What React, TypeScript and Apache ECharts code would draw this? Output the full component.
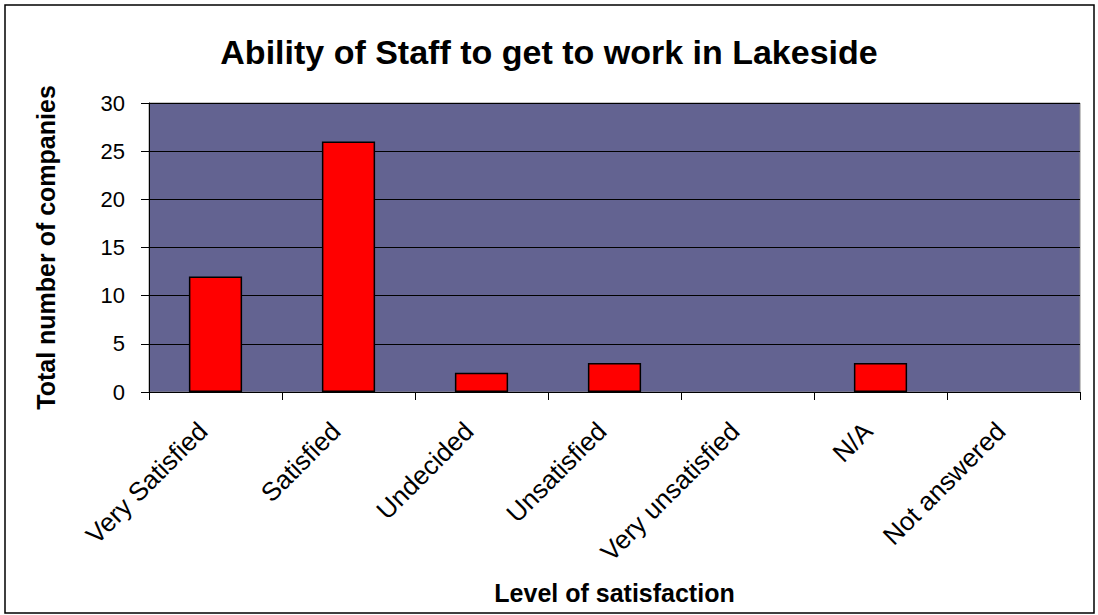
import React, { useEffect, useRef } from "react";
import * as echarts from "echarts";

const categories = ["Very Satisfied", "Satisfied", "Undecided", "Unsatisfied", "Very unsatisfied", "N/A", "Not answered"];
const counts = [12, 26, 2, 3, 0, 3, 0];
const titleText = "Ability of Staff to get to work in Lakeside";
const yName = "Total number of companies";
const xName = "Level of satisfaction";

export default function App() {
  const ref = useRef<HTMLDivElement>(null);
  useEffect(() => {
    if (!ref.current) return;
    const chart = echarts.init(ref.current, null, { renderer: "svg" });
    const font = "Liberation Sans, Arial, sans-serif";
    const left = 149, right = 1080, top = 103, bottom = 392;
    chart.setOption({
      animation: false,
      backgroundColor: "#ffffff",
      title: {
        text: titleText,
        left: "center",
        top: 30,
        textStyle: { fontFamily: font, fontSize: 34, fontWeight: "bold", color: "#000" },
      },
      grid: {
        left: left,
        top: top,
        width: right - left,
        height: bottom - top,
        show: true,
        backgroundColor: "#636391",
        borderColor: "#8a8a8a",
        borderWidth: 1,
      },
      xAxis: {
        type: "category",
        data: categories,
        boundaryGap: true,
        name: xName,
        nameLocation: "middle",
        nameGap: 188,
        nameTextStyle: { fontFamily: font, fontSize: 25, fontWeight: "bold", color: "#000" },
        axisLine: { show: true, lineStyle: { color: "#000", width: 1 } },
        axisTick: { show: true, length: 8, alignWithLabel: false, lineStyle: { color: "#000" } },
        axisLabel: {
          rotate: 45,
          interval: 0,
          margin: 22,
          padding: [0, 18, 0, 0],
          fontFamily: font,
          fontSize: 26,
          color: "#000",
        },
        splitLine: { show: false },
      },
      yAxis: {
        type: "value",
        min: 0,
        max: 30,
        interval: 5,
        name: yName,
        nameLocation: "middle",
        nameGap: 91,
        nameRotate: 90,
        nameTextStyle: { fontFamily: font, fontSize: 25, fontWeight: "bold", color: "#000" },
        axisLine: { show: true, lineStyle: { color: "#000", width: 1 } },
        axisTick: { show: true, length: 8, inside: false, lineStyle: { color: "#000" } },
        axisLabel: { fontFamily: font, fontSize: 22, color: "#000", margin: 24 },
        splitLine: { show: true, lineStyle: { color: "#000", width: 1 } },
      },
      series: [
        {
          type: "bar",
          data: counts.map((v) => (v === 0 ? { value: v, itemStyle: { borderWidth: 0 } } : v)),
          barWidth: "40%",
          itemStyle: { color: "#ff0000", borderColor: "#000", borderWidth: 1.5 },
        },
      ],
      graphic: [
        {
          type: "rect",
          shape: { x: 5, y: 5, width: 1089, height: 608 },
          style: { fill: "none", stroke: "#000", lineWidth: 1.5 },
          silent: true,
        },
      ],
    });
    return () => chart.dispose();
  }, []);
  return <div ref={ref} style={{ position: "fixed", left: 0, top: 0, width: 1098, height: 615 }} />;
}
